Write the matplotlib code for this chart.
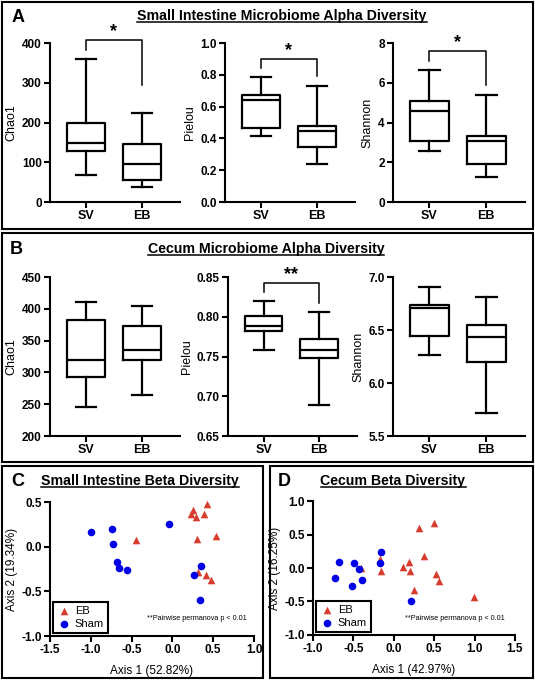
import matplotlib
matplotlib.use('Agg')
import matplotlib.pyplot as plt
from matplotlib.patches import Rectangle
from matplotlib.lines import Line2D

plt.rcParams['font.family'] = ['Liberation Sans', 'DejaVu Sans']

groups = ['SV', 'EB']

# five-number summaries: whisker low, Q1, median, Q3, whisker high
si_chao1_sv = [68, 129, 148, 200, 360]
si_chao1_eb = [39, 56, 96, 145, 225]
si_pielou_sv = [0.415, 0.463, 0.644, 0.673, 0.784]
si_pielou_eb = [0.239, 0.348, 0.447, 0.480, 0.727]
si_shannon_sv = [2.55, 3.09, 4.60, 5.06, 6.62]
si_shannon_eb = [1.24, 1.91, 3.07, 3.31, 5.40]

ce_chao1_sv = [245, 293, 319, 383, 410]
ce_chao1_eb = [264, 319, 336, 373, 405]
ce_pielou_sv = [0.758, 0.782, 0.7885, 0.8015, 0.8195]
ce_pielou_eb = [0.689, 0.748, 0.758, 0.7726, 0.806]
ce_shannon_sv = [6.26, 6.44, 6.71, 6.74, 6.91]
ce_shannon_eb = [5.72, 6.195, 6.433, 6.549, 6.815]

# PCoA coordinates
si_eb_x = [0.248, 0.228, 0.289, 0.387, 0.428, 0.297, 0.534, -0.450, 0.310, 0.412, 0.469]
si_eb_y = [0.407, 0.370, 0.329, 0.370, 0.474, 0.091, 0.117, 0.079, -0.278, -0.319, -0.378]
si_sham_x = [-1.002, -0.736, -0.724, -0.683, -0.654, -0.556, -0.042, 0.350, 0.261, 0.338]
si_sham_y = [0.169, 0.199, 0.027, -0.166, -0.237, -0.263, 0.251, -0.218, -0.319, -0.594]

ce_eb_x = [0.314, 0.503, 0.380, -0.176, 0.186, 0.108, 0.199, -0.407, -0.160, 0.528, 0.557, 0.256, 0.998]
ce_eb_y = [0.598, 0.667, 0.176, 0.141, 0.087, 0.022, -0.052, 0.0, -0.042, -0.092, -0.191, -0.330, -0.429]
ce_sham_x = [-0.675, -0.498, -0.160, -0.176, -0.428, -0.728, -0.522, -0.390, 0.207]
ce_sham_y = [0.092, 0.077, 0.236, 0.082, -0.022, -0.146, -0.266, -0.176, -0.494]

RED = '#d83c2c'
BLUE = '#0000e6'

fig = plt.figure(figsize=(5.35, 6.80), dpi=100)


def style(ax, xsize=8.5):
    for s in ['top', 'right']:
        ax.spines[s].set_visible(False)
    for s in ['left', 'bottom']:
        ax.spines[s].set_linewidth(1.5)
    ax.tick_params(direction='out', length=4, width=1.5, labelsize=8.5, pad=2)
    ax.tick_params(axis='x', labelsize=xsize)
    for t in ax.get_xticklabels() + ax.get_yticklabels():
        t.set_fontweight('bold')


def box_panel(rect, sv, eb, ylabel, ylim, yticks, fmt, sig=None):
    ax = fig.add_axes(rect)
    stats = []
    for lab, v in zip(groups, [sv, eb]):
        stats.append(dict(label=lab, whislo=v[0], q1=v[1], med=v[2], q3=v[3], whishi=v[4]))
    lp = dict(color='black', lw=1.6)
    ax.bxp(stats, positions=[1, 2], widths=0.68, capwidths=0.36, showfliers=False,
           boxprops=lp, medianprops=lp, whiskerprops=lp, capprops=lp)
    ax.set_xlim(0.36, 2.68)
    ax.set_ylim(ylim)
    ax.set_yticks(yticks)
    ax.set_yticklabels([fmt.format(t) for t in yticks])
    style(ax, xsize=9)
    ax.set_ylabel(ylabel, fontsize=9, labelpad=3)
    if sig:
        stars, top, left, right = sig
        ax.plot([1, 1, 2, 2], [left, top, top, right], color='black', lw=1.1, clip_on=False)
        ax.annotate(stars, xy=(1.5, top), xytext=(0, 0), textcoords='offset points',
                    ha='center', va='bottom', fontsize=13, fontweight='bold',
                    annotation_clip=False)
    return ax


def scatter_panel(rect, ex, ey, sx, sy, xlab, ylab, xlim, xticks, ylim, yticks, note_xy):
    ax = fig.add_axes(rect)
    ax.scatter(ex, ey, marker='^', s=30, color=RED, label='EB', clip_on=False, linewidths=0)
    ax.scatter(sx, sy, marker='o', s=30, color=BLUE, label='Sham', clip_on=False, linewidths=0)
    ax.set_xlim(xlim)
    ax.set_ylim(ylim)
    ax.set_xticks(xticks)
    ax.set_xticklabels(['{:.1f}'.format(t) for t in xticks])
    ax.set_yticks(yticks)
    ax.set_yticklabels(['{:.1f}'.format(t) for t in yticks])
    style(ax)
    ax.set_xlabel(xlab, fontsize=8.5, labelpad=6)
    ax.set_ylabel(ylab, fontsize=8.5, labelpad=2)
    leg = ax.legend(loc='lower left', bbox_to_anchor=(0.015, 0.025), fontsize=8,
                    fancybox=False, edgecolor='black', framealpha=1, handletextpad=0.4,
                    borderpad=0.35, labelspacing=0.25, handlelength=1.2, borderaxespad=0)
    leg.get_frame().set_linewidth(1.5)
    ax.text(note_xy[0], note_xy[1], '**Pairwise permanova p < 0.01', transform=ax.transAxes,
            ha='right', va='center', fontsize=5.2)
    return ax


# panel A
box_panel([0.0935, 0.7029, 0.243, 0.2338], si_chao1_sv, si_chao1_eb, 'Chao1',
          (0, 400), [0, 100, 200, 300, 400], '{:.0f}', ('*', 408, 383, 295))
box_panel([0.4206, 0.7029, 0.243, 0.2338], si_pielou_sv, si_pielou_eb, 'Pielou',
          (0, 1.0), [0, 0.2, 0.4, 0.6, 0.8, 1.0], '{:.1f}', ('*', 0.90, 0.843, 0.79))
box_panel([0.7346, 0.7029, 0.2467, 0.2338], si_shannon_sv, si_shannon_eb, 'Shannon',
          (0, 8), [0, 2, 4, 6, 8], '{:.0f}', ('*', 7.58, 7.08, 5.9))

# panel B
box_panel([0.0935, 0.3588, 0.243, 0.2338], ce_chao1_sv, ce_chao1_eb, 'Chao1',
          (200, 450), [200, 250, 300, 350, 400, 450], '{:.0f}')
box_panel([0.4262, 0.3588, 0.241, 0.2338], ce_pielou_sv, ce_pielou_eb, 'Pielou',
          (0.65, 0.85), [0.65, 0.70, 0.75, 0.80, 0.85], '{:.2f}', ('**', 0.842, 0.831, 0.817))
box_panel([0.7346, 0.3588, 0.2467, 0.2338], ce_shannon_sv, ce_shannon_eb, 'Shannon',
          (5.5, 7.0), [5.5, 6.0, 6.5, 7.0], '{:.1f}')

# panels C, D
scatter_panel([0.0935, 0.0647, 0.3813, 0.197], si_eb_x, si_eb_y, si_sham_x, si_sham_y,
              'Axis 1 (52.82%)', 'Axis 2 (19.34%)', (-1.5, 1.0), [-1.5, -1.0, -0.5, 0.0, 0.5, 1.0],
              (-1.0, 0.5), [-1.0, -0.5, 0.0, 0.5], (0.966, 0.127))
scatter_panel([0.585, 0.0662, 0.3776, 0.197], ce_eb_x, ce_eb_y, ce_sham_x, ce_sham_y,
              'Axis 1 (42.97%)', 'Axis 2 (16.25%)', (-1.0, 1.5), [-1.0, -0.5, 0.0, 0.5, 1.0, 1.5],
              (-1.0, 1.0), [-1.0, -0.5, 0.0, 0.5, 1.0], (0.95, 0.12))

# frames around panels (pixel boxes: x0, y0, x1, y1 from top-left)
W, H = 535, 680
for x0, y0, x1, y1 in [(2, 2, 533, 229), (2, 233, 533, 462), (2, 466, 263, 678), (270, 466, 533, 678)]:
    fig.add_artist(Rectangle((x0 / W, 1 - y1 / H), (x1 - x0) / W, (y1 - y0) / H,
                             transform=fig.transFigure, fill=False, lw=1.5, edgecolor='black'))

letters = [('A', 12, 17), ('B', 10, 249), ('C', 11, 481), ('D', 278, 481)]
for s, x, y in letters:
    fig.text(x / W, 1 - y / H, s, fontsize=13, fontweight='bold', ha='left', va='center')

titles = [('Small Intestine Microbiome Alpha Diversity', 282, 16),
          ('Cecum Microbiome Alpha Diversity', 266, 249),
          ('Small Intestine Beta Diversity', 140, 481),
          ('Cecum Beta Diversity', 393, 481)]
title_texts = []
for s, x, y in titles:
    title_texts.append(fig.text(x / W, 1 - y / H, s, fontsize=10.2, fontweight='bold',
                                ha='center', va='center'))

# underline titles
fig.canvas.draw()
r = fig.canvas.get_renderer()
for t in title_texts:
    bb = t.get_window_extent(r).transformed(fig.transFigure.inverted())
    yl = bb.y0 + 1.0 / H
    fig.add_artist(Line2D([bb.x0, bb.x1], [yl, yl], transform=fig.transFigure,
                          color='black', lw=1.1))

fig.savefig('out.png', dpi=100)
